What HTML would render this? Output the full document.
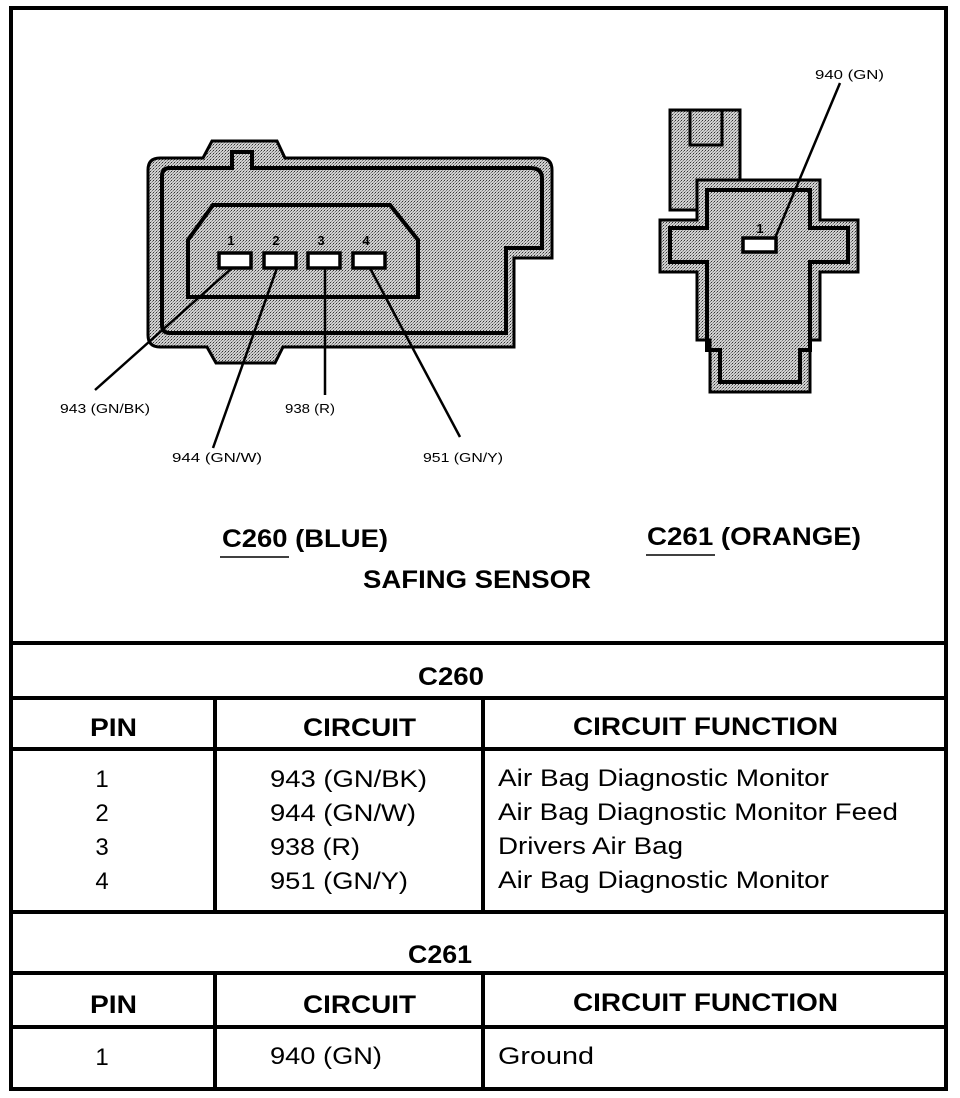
<!DOCTYPE html>
<html><head><meta charset="utf-8"><style>
html,body{margin:0;padding:0;background:#fff;}
svg{display:block;}
text{font-family:"Liberation Sans",Arial,sans-serif;fill:#000;}
.h{font-weight:bold;font-size:25px;}
.b{font-size:24px;}
.s{font-size:13px;}
</style></head><body>
<svg width="960" height="1098" viewBox="0 0 960 1098" xmlns="http://www.w3.org/2000/svg">
<defs>
<pattern id="dots" width="3" height="3" patternUnits="userSpaceOnUse">
<rect width="3" height="3" fill="#d0d0d0"/><rect width="1" height="1" fill="#333"/><rect x="2" y="1" width="1" height="1" fill="#777"/><rect x="1" y="2" width="1" height="1" fill="#999"/>
</pattern>
</defs>
<rect x="11" y="8" width="935" height="1081" fill="none" stroke="#000" stroke-width="4"/>
<!-- C260 connector -->
<path d="M148,170 Q148,158 160,158 L203,158 L212,141 L277,141 L285,158 L540,158 Q552,158 552,170 L552,258 L514,258 L514,347 L283,347 L275,363 L216,363 L207,347 L160,347 Q148,347 148,335 Z" fill="url(#dots)" stroke="#000" stroke-width="3"/>
<path d="M162,176 Q162,168 170,168 L232,168 L232,152 L252,152 L252,168 L530,168 Q542,168 542,178 L542,248 L506,248 L506,333 L170,333 Q162,333 162,325 Z" fill="none" stroke="#000" stroke-width="4"/>
<path d="M188,297 L188,240 L213,205 L390,205 L418,240 L418,297 Z" fill="url(#dots)" stroke="#000" stroke-width="4"/>
<g fill="#fff" stroke="#000" stroke-width="3.5">
<rect x="219" y="253" width="32" height="15"/><rect x="264" y="253" width="32" height="15"/>
<rect x="308" y="253" width="32" height="15"/><rect x="353" y="253" width="32" height="15"/>
</g>
<g class="s" font-weight="bold" text-anchor="middle"><text x="231" y="245">1</text><text x="276" y="245">2</text><text x="321" y="245">3</text><text x="366" y="245">4</text></g>
<g stroke="#000" stroke-width="2.5">
<line x1="232" y1="268" x2="95" y2="390"/>
<line x1="277" y1="268" x2="213" y2="448"/>
<line x1="325" y1="268" x2="325" y2="395"/>
<line x1="370" y1="268" x2="460" y2="437"/>
</g>
<g class="s" lengthAdjust="spacingAndGlyphs">
<text x="60" y="413" textLength="90" lengthAdjust="spacingAndGlyphs">943 (GN/BK)</text>
<text x="172" y="462" textLength="90" lengthAdjust="spacingAndGlyphs">944 (GN/W)</text>
<text x="285" y="413" textLength="50" lengthAdjust="spacingAndGlyphs">938 (R)</text>
<text x="423" y="462" textLength="80" lengthAdjust="spacingAndGlyphs">951 (GN/Y)</text>
</g>
<!-- C261 connector -->
<path d="M670,110 L740,110 L740,210 L670,210 Z" fill="url(#dots)" stroke="#000" stroke-width="3"/>
<path d="M690,110 L722,110 L722,145 L690,145 Z" fill="none" stroke="#000" stroke-width="3"/>
<path d="M697,180 L820,180 L820,220 L858,220 L858,272 L820,272 L820,340 L810,340 L810,392 L710,392 L710,340 L697,340 L697,272 L660,272 L660,220 L697,220 Z" fill="url(#dots)" stroke="#000" stroke-width="3"/>
<path d="M707,190 L810,190 L810,228 L848,228 L848,262 L810,262 L810,350 L800,350 L800,382 L720,382 L720,350 L707,350 L707,262 L670,262 L670,228 L707,228 Z" fill="none" stroke="#000" stroke-width="4"/>
<rect x="743" y="238" width="33" height="14" fill="#fff" stroke="#000" stroke-width="3.5"/>
<text class="s" font-weight="bold" x="760" y="233" text-anchor="middle">1</text>
<line x1="775" y1="238" x2="840" y2="83" stroke="#000" stroke-width="2.5"/>
<text class="s" x="815" y="79" textLength="69" lengthAdjust="spacingAndGlyphs">940 (GN)</text>
<!-- titles -->
<text class="h" x="222" y="547" textLength="166" lengthAdjust="spacingAndGlyphs">C260 (BLUE)</text>
<line x1="220" y1="557" x2="289" y2="557" stroke="#000" stroke-width="1.5"/>
<text class="h" x="647" y="545" textLength="214" lengthAdjust="spacingAndGlyphs">C261 (ORANGE)</text>
<line x1="646" y1="555" x2="715" y2="555" stroke="#000" stroke-width="1.5"/>
<text class="h" x="363" y="588" textLength="228" lengthAdjust="spacingAndGlyphs">SAFING SENSOR</text>
<!-- table -->
<g stroke="#000" stroke-width="4">
<line x1="11" y1="643" x2="946" y2="643"/>
<line x1="11" y1="698" x2="946" y2="698"/>
<line x1="11" y1="749" x2="946" y2="749"/>
<line x1="11" y1="912" x2="946" y2="912"/>
<line x1="11" y1="973" x2="946" y2="973"/>
<line x1="11" y1="1027" x2="946" y2="1027"/>
<line x1="215" y1="698" x2="215" y2="912"/>
<line x1="483" y1="698" x2="483" y2="912"/>
<line x1="215" y1="973" x2="215" y2="1089"/>
<line x1="483" y1="973" x2="483" y2="1089"/>
</g>
<text class="h" x="418" y="685" textLength="66" lengthAdjust="spacingAndGlyphs">C260</text>
<text class="h" x="90" y="736" textLength="47" lengthAdjust="spacingAndGlyphs">PIN</text>
<text class="h" x="303" y="736" textLength="113" lengthAdjust="spacingAndGlyphs">CIRCUIT</text>
<text class="h" x="573" y="735" textLength="265" lengthAdjust="spacingAndGlyphs">CIRCUIT FUNCTION</text>
<g class="b">
<text x="102" y="787" text-anchor="middle">1</text><text x="102" y="821" text-anchor="middle">2</text><text x="102" y="855" text-anchor="middle">3</text><text x="102" y="889" text-anchor="middle">4</text>
<text x="270" y="787" textLength="157" lengthAdjust="spacingAndGlyphs">943 (GN/BK)</text>
<text x="270" y="821" textLength="146" lengthAdjust="spacingAndGlyphs">944 (GN/W)</text>
<text x="270" y="855" textLength="90" lengthAdjust="spacingAndGlyphs">938 (R)</text>
<text x="270" y="889" textLength="138" lengthAdjust="spacingAndGlyphs">951 (GN/Y)</text>
<text x="498" y="786" textLength="331" lengthAdjust="spacingAndGlyphs">Air Bag Diagnostic Monitor</text>
<text x="498" y="820" textLength="400" lengthAdjust="spacingAndGlyphs">Air Bag Diagnostic Monitor Feed</text>
<text x="498" y="854" textLength="185" lengthAdjust="spacingAndGlyphs">Drivers Air Bag</text>
<text x="498" y="888" textLength="331" lengthAdjust="spacingAndGlyphs">Air Bag Diagnostic Monitor</text>
</g>
<text class="h" x="408" y="963" textLength="64" lengthAdjust="spacingAndGlyphs">C261</text>
<text class="h" x="90" y="1013" textLength="47" lengthAdjust="spacingAndGlyphs">PIN</text>
<text class="h" x="303" y="1013" textLength="113" lengthAdjust="spacingAndGlyphs">CIRCUIT</text>
<text class="h" x="573" y="1011" textLength="265" lengthAdjust="spacingAndGlyphs">CIRCUIT FUNCTION</text>
<g class="b">
<text x="102" y="1065" text-anchor="middle">1</text>
<text x="270" y="1064" textLength="112" lengthAdjust="spacingAndGlyphs">940 (GN)</text>
<text x="498" y="1064" textLength="96" lengthAdjust="spacingAndGlyphs">Ground</text>
</g>
</svg>
</body></html>
